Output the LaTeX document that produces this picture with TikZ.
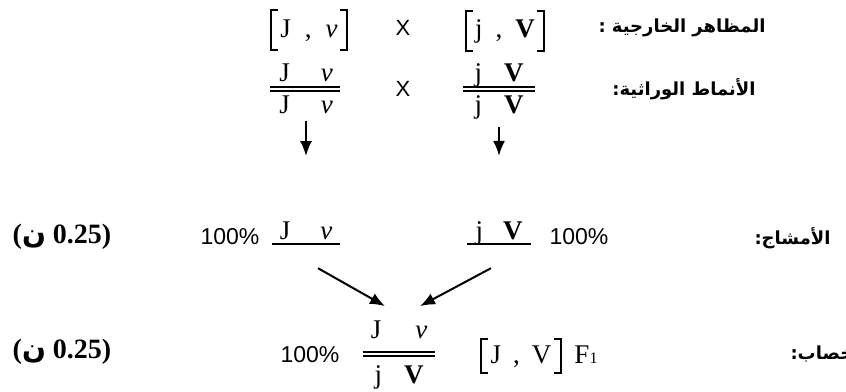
\documentclass[tikz,border=0pt]{standalone}
\usepackage{fontspec}
\setmainfont{Liberation Serif}
\newfontfamily\sansfont{Liberation Sans}
\newfontfamily\arabicfont[Script=Arabic]{DejaVu Sans}
\TeXXeTstate=1
\usetikzlibrary{arrows.meta,positioning,calc}
\newcommand\nun{{\arabicfont\bfseries ن}}

\begin{document}
\begin{tikzpicture}[x=1pt,y=-1pt,>=Latex]
  \tikzset{
    allele/.style={font=\fontsize{27}{27}\selectfont,inner sep=0pt},
    pheno/.style={allele,minimum height=40pt,inner xsep=9pt},
    gamete/.style={allele,inner xsep=8pt,inner ysep=5pt,text depth=0pt},
    cross/.style={font=\sansfont\fontsize{22}{22}\selectfont},
    pct/.style={font=\sansfont\fontsize{23}{23}\selectfont},
    score/.style={font=\bfseries\fontsize{28}{28}\selectfont},
    rowlabel/.style={font=\arabicfont\bfseries\fontsize{18}{18}\selectfont},
    bar/.style={line width=1.5pt},
    brk/.style={line width=1.9pt},
    arr/.style={->,line width=2pt,>={Latex[length=15pt,width=12pt]}}}
  \path[use as bounding box,clip] (0,0) rectangle (846,391);

  % phenotypes of the parents
  \node[pheno,anchor=base] (ph1) at (309,37) {J\hspace{14pt},\hspace{14pt}\textit{v}};
  \node[cross] (x1) at (403,28) {X};
  \node[pheno,anchor=base] (ph2) at (505,37) {j\hspace{13pt},\hspace{13pt}\textbf{V}};
  \node[rowlabel,anchor=east] (lab1) at (769,28) {\beginR المظاهر الخارجية :\endR};

  % genotypes of the parents
  \node[allele,anchor=base] (g1a) at (306,81) {J\hspace{31pt}\textit{v}};
  \node[allele,anchor=base] (g1b) at (306,113) {J\hspace{31pt}\textit{v}};
  \draw[bar] (270,87) -- (340,87) (270,91) -- (340,91);
  \node[cross] (x2) at (403,89) {X};
  \node[allele,anchor=base] (g2a) at (499,81) {j\hspace{22pt}\textbf{V}};
  \node[allele,anchor=base] (g2b) at (499,113) {j\hspace{22pt}\textbf{V}};
  \draw[bar] (463,87) -- (535,87) (463,91) -- (535,91);
  \node[rowlabel,anchor=east] (lab2) at (759,89) {\beginR الأنماط الوراثية:\endR};

  % gametes
  \node[score] (s1) at (62,237) {(\nun\ 0.25)};
  \node[pct] (pc1) at (230,237) {100\%};
  \node[gamete,anchor=base] (gm1) at (306,239) {J\hspace{30pt}\textit{v}};
  \draw[bar] (gm1.south west) -- (gm1.south east);
  \node[gamete,anchor=base] (gm2) at (499,239) {j\hspace{20pt}\textbf{V}};
  \draw[bar] (gm2.south west) -- (gm2.south east);
  \node[pct] (pc2) at (579,237) {100\%};
  \node[rowlabel,anchor=east] (lab3) at (834,238) {\beginR الأمشاج:\endR};
  \draw[arr,shorten <=8pt,shorten >=60pt] (g1b) -- (gm1);
  \draw[arr,shorten <=8pt,shorten >=60pt] (g2b) -- (gm2);

  % fertilisation
  \node[score] (s2) at (62,352) {(\nun\ 0.25)};
  \node[pct] (pc3) at (310,355) {100\%};
  \node[allele,anchor=base] (f1a) at (399,338) {J\hspace{34pt}\textit{v}};
  \node[allele,anchor=base] (f1b) at (399,383) {j\hspace{22pt}\textbf{V}};
  \draw[bar] (363,352) -- (435,352) (363,356) -- (435,356);
  \node[pheno,anchor=base,minimum height=34pt] (ph3) at (521,363) {J\hspace{12pt},\hspace{12pt}V};
  \node[allele,anchor=base] (fgen) at (586,363) {F{\fontsize{16}{16}\selectfont 1}};
  \node[rowlabel,anchor=west] (lab4) at (787,355) {\beginR الإخصاب:\endR};
  \draw[arr] ([xshift=12pt,yshift=-24pt]gm1.south) -- ([xshift=-14pt,yshift=14pt]f1a.north);
  \draw[arr] ([xshift=-8pt,yshift=-24pt]gm2.south) -- ([xshift=21pt,yshift=14pt]f1a.north);

  \foreach \n in {ph1,ph2,ph3} {
    \draw[brk] ([xshift=7pt]\n.north west) -- (\n.north west) -- (\n.south west) -- ([xshift=7pt]\n.south west);
    \draw[brk] ([xshift=-7pt]\n.north east) -- (\n.north east) -- (\n.south east) -- ([xshift=-7pt]\n.south east);
  }
\end{tikzpicture}
\end{document}
